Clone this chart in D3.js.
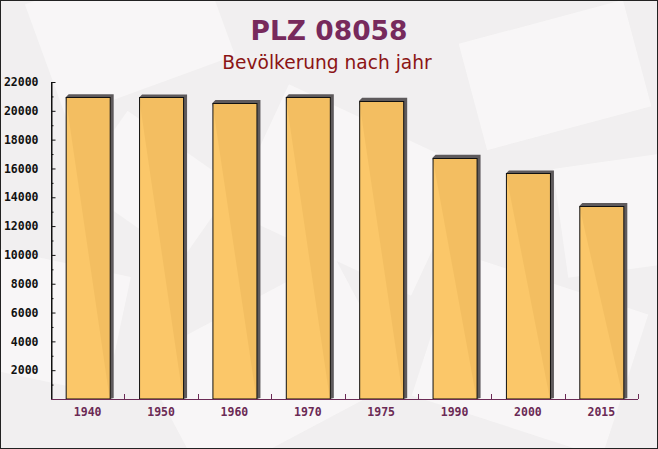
<!DOCTYPE html>
<html><head><meta charset="utf-8">
<script src="https://cdn.jsdelivr.net/npm/d3@7"></script>
<style>html,body{margin:0;padding:0;background:#fff}svg{display:block}</style>
</head><body>
<svg id="chart" width="658" height="449"></svg>
<script>
const years = ["1940","1950","1960","1970","1975","1990","2000","2015"];
const population = [20950, 20930, 20550, 20950, 20700, 16750, 15650, 13400];
const yTickValues = [2000,4000,6000,8000,10000,12000,14000,16000,18000,20000,22000];
const yMinorValues = [1000,3000,5000,7000,9000,11000,13000,15000,17000,19000,21000];
const titleText = "PLZ 08058";
const subtitleText = "Bevölkerung nach jahr";

const W = 658, H = 449;
const svg = d3.select("#chart");

// background
svg.append("rect").attr("width", W).attr("height", H).attr("fill", "#f1eff0");
const patches = [
  [40,-30,180,120,-20],[250,120,200,140,25],[470,20,170,110,-15],[-30,260,150,120,12],
  [160,300,220,140,-28],[430,280,200,150,18],[560,160,120,110,-8],[90,140,130,90,35]
];
svg.append("g").selectAll("rect").data(patches).join("rect")
  .attr("x", d => d[0]).attr("y", d => d[1]).attr("width", d => d[2]).attr("height", d => d[3])
  .attr("transform", d => `rotate(${d[4]},${d[0]+d[2]/2},${d[1]+d[3]/2})`)
  .attr("fill", "#fbfafa").attr("opacity", 0.7);

const x = d3.scaleBand().domain(years).range([51, 638]).paddingInner(0.4).paddingOuter(0.2);
const y = d3.scaleLinear().domain([0, 22000]).range([399, 82]);
const step = x.step();

// bars with shadow
const g = svg.append("g");
const bw = x.bandwidth();
g.selectAll("path.shadow").data(years).join("path")
  .attr("class","shadow")
  .attr("fill", "#5e5a5c")
  .attr("d", (d,i) => {
    const x0 = x(d), t = y(population[i]), b = y(0);
    return `M${x0},${t} L${x0+3},${t-3} L${x0+bw+4},${t-3} L${x0+bw+4},${b-1} L${x0+bw},${b} Z`;
  });
g.selectAll("rect.bar").data(years).join("rect")
  .attr("class","bar")
  .attr("x", d => x(d) + 0.5)
  .attr("y", (d,i) => Math.round(y(population[i])) + 0.5)
  .attr("width", bw)
  .attr("height", (d,i) => y(0) - Math.round(y(population[i])) - 0.5)
  .attr("fill", "#fbc461").attr("fill-opacity", 0.95)
  .attr("stroke", "#111").attr("stroke-width", 1);

// y axis
const yAxis = d3.axisLeft(y).tickValues(yTickValues).tickSizeInner(-4).tickSizeOuter(0)
  .tickPadding(13).tickFormat(d3.format("d"));
const ya = svg.append("g").attr("transform", "translate(51.5,0)").call(yAxis);
ya.select(".domain").attr("stroke", "#111");
ya.selectAll(".tick line").attr("stroke", "#111");
ya.selectAll(".tick text").attr("font-family", "'DejaVu Sans Mono', monospace")
  .attr("font-weight", "bold").attr("font-size", "11.5px").attr("fill", "#111");
const yMinor = d3.axisLeft(y).tickValues(yMinorValues).tickSizeInner(-2).tickSizeOuter(0).tickFormat("");
const ym = svg.append("g").attr("transform", "translate(51.5,0)").call(yMinor);
ym.select(".domain").remove();
ym.selectAll(".tick line").attr("stroke", "#111");
svg.append("line").attr("x1", 51.5).attr("x2", 51.5).attr("y1", y(22000)).attr("y2", y(0))
  .attr("stroke", "#111");

// x axis
const xAxis = d3.axisBottom(x).tickSize(0).tickPadding(8);
const xa = svg.append("g").attr("transform", `translate(0,${y(0)+0.5})`).call(xAxis);
xa.select(".domain").attr("stroke", "#6b2a55").attr("d", `M51,0H${638}`);
xa.selectAll(".tick text").attr("font-family", "'DejaVu Sans Mono', monospace")
  .attr("font-weight", "bold").attr("font-size", "11.5px").attr("fill", "#6b2a55")
  .attr("dy", "0.71em");
svg.append("g").selectAll("line").data(years).join("line")
  .attr("x1", d => Math.round(x(d) + bw + step * 0.2) + 0.5)
  .attr("x2", d => Math.round(x(d) + bw + step * 0.2) + 0.5)
  .attr("y1", y(0) - 5).attr("y2", y(0))
  .attr("stroke", "#6b2a55");

// titles
svg.append("text").attr("x", 329).attr("y", 40).attr("text-anchor", "middle")
  .attr("font-family", "'DejaVu Sans', sans-serif").attr("font-weight", "bold")
  .attr("font-size", "26.5px").attr("fill", "#772a5c").text(titleText);
svg.append("text").attr("x", 327).attr("y", 69).attr("text-anchor", "middle")
  .attr("font-family", "'DejaVu Sans', sans-serif")
  .attr("font-size", "18.6px").attr("fill", "#8b1414").text(subtitleText);

// border
svg.append("rect").attr("x", 0.5).attr("y", 0.5).attr("width", W-1).attr("height", H-1)
  .attr("fill", "none").attr("stroke", "#222");
</script>
</body></html>
